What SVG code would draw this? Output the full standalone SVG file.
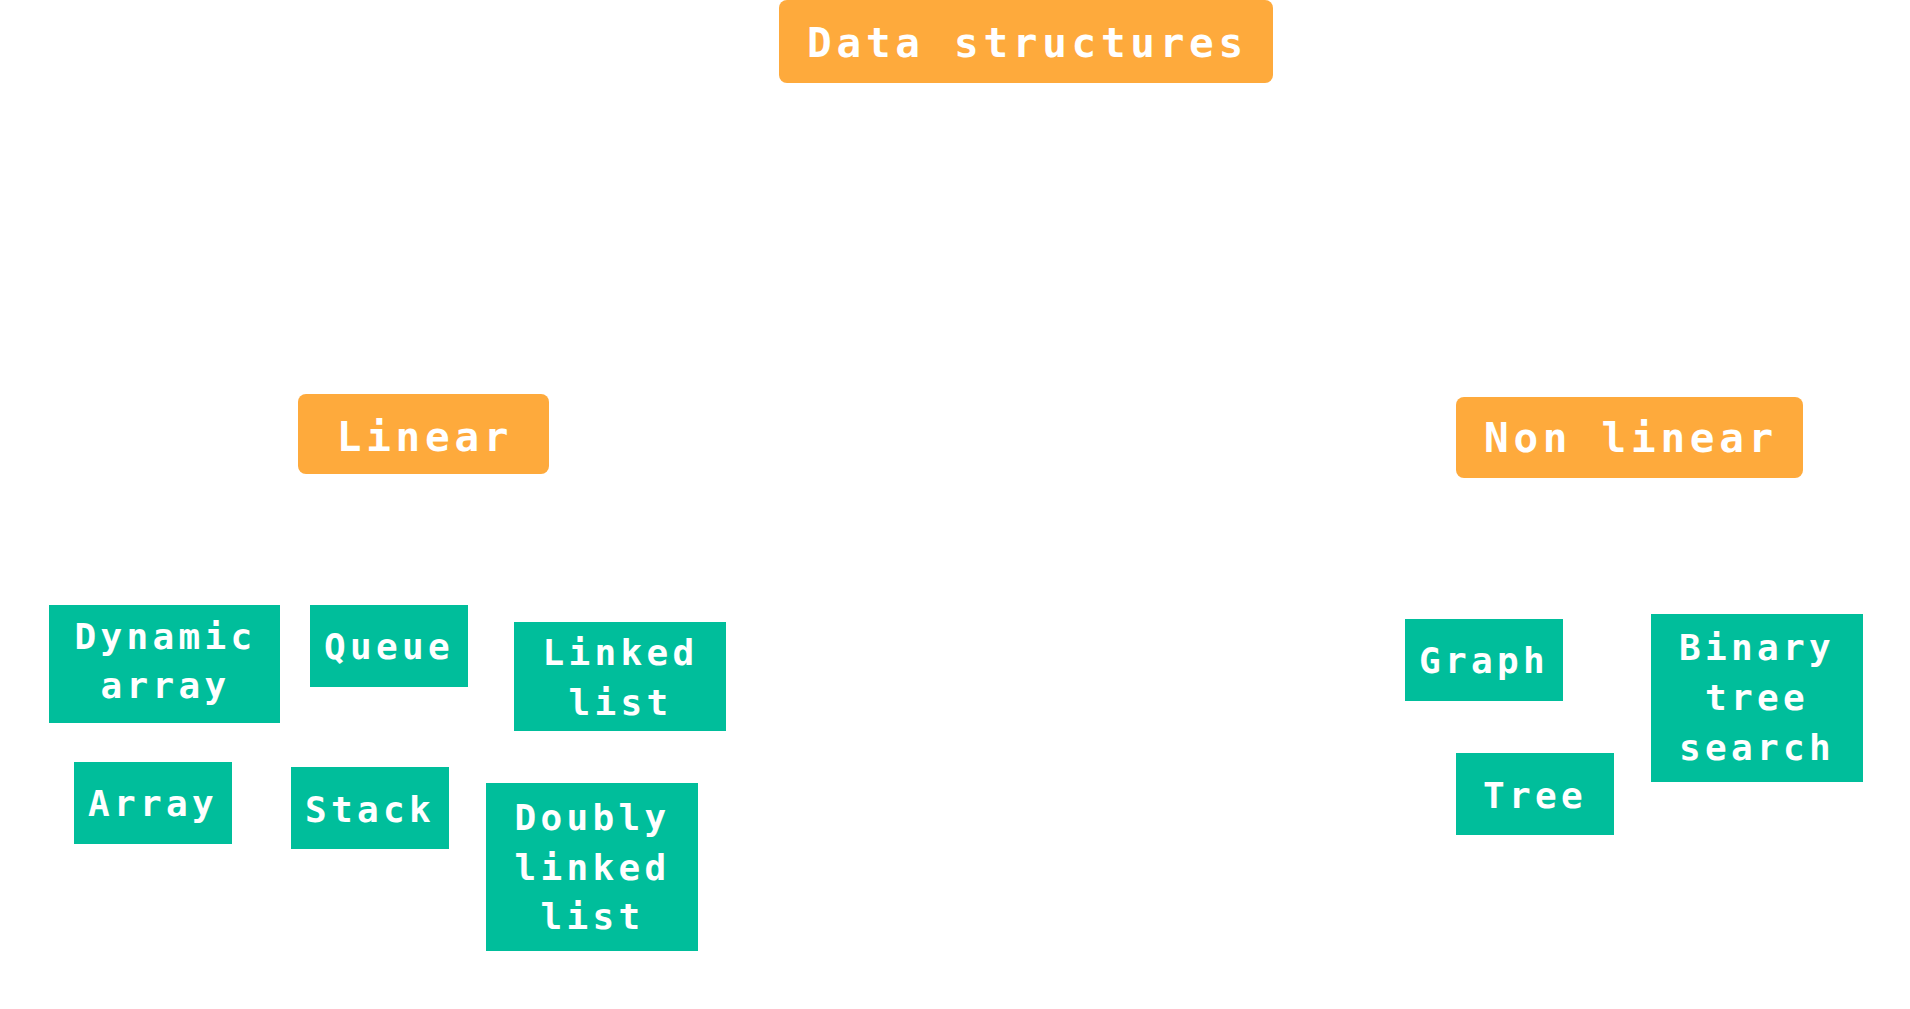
<svg xmlns="http://www.w3.org/2000/svg" width="1910" height="1009" viewBox="0 0 1910 1009">
  <style>
    .cat rect { fill: #FEAA3C; }
    .leaf rect { fill: #00BE9B; }
    text { font-family: "DejaVu Sans Mono", "Liberation Mono", monospace; font-weight: bold; fill: #FFFFFF; text-anchor: middle; }
    .cat text { font-size: 41px; letter-spacing: 4.7px; }
    .leaf text { font-size: 36px; letter-spacing: 4.3px; }
  </style>
  <rect width="1910" height="1009" fill="#FFFFFF"/>
  <g id="connectors"/>
  <g id="data-structures" class="cat">
    <rect x="779" y="0" width="494" height="83" rx="8"/>
    <text x="1027.5" y="57">Data structures</text>
  </g>
  <g id="linear" class="cat">
    <rect x="298" y="394" width="251" height="80" rx="8"/>
    <text x="425" y="451">Linear</text>
  </g>
  <g id="non-linear" class="cat">
    <rect x="1456" y="397" width="347" height="81" rx="8"/>
    <text x="1631" y="452">Non linear</text>
  </g>
  <g id="dynamic-array" class="leaf">
    <rect x="49" y="605" width="231" height="118"/>
    <text x="165.5" y="649"><tspan x="165.5">Dynamic</tspan><tspan x="165.5" dy="49">array</tspan></text>
  </g>
  <g id="queue" class="leaf">
    <rect x="310" y="605" width="158" height="82"/>
    <text x="389" y="659">Queue</text>
  </g>
  <g id="linked-list" class="leaf">
    <rect x="514" y="622" width="212" height="109"/>
    <text x="620.5" y="665"><tspan x="620.5">Linked</tspan><tspan x="620.5" dy="49.5">list</tspan></text>
  </g>
  <g id="array" class="leaf">
    <rect x="74" y="762" width="158" height="82"/>
    <text x="153" y="816">Array</text>
  </g>
  <g id="stack" class="leaf">
    <rect x="291" y="767" width="158" height="82"/>
    <text x="370" y="822">Stack</text>
  </g>
  <g id="doubly-linked-list" class="leaf">
    <rect x="486" y="783" width="212" height="168"/>
    <text x="592.5" y="830"><tspan x="592.5">Doubly</tspan><tspan x="592.5" dy="49.5">linked</tspan><tspan x="592.5" dy="49.5">list</tspan></text>
  </g>
  <g id="graph" class="leaf">
    <rect x="1405" y="619" width="158" height="82"/>
    <text x="1484" y="673">Graph</text>
  </g>
  <g id="tree" class="leaf">
    <rect x="1456" y="753" width="158" height="82"/>
    <text x="1535" y="808">Tree</text>
  </g>
  <g id="binary-tree-search" class="leaf">
    <rect x="1651" y="614" width="212" height="168"/>
    <text x="1757" y="660"><tspan x="1757">Binary</tspan><tspan x="1757" dy="50">tree</tspan><tspan x="1757" dy="50">search</tspan></text>
  </g>
</svg>
